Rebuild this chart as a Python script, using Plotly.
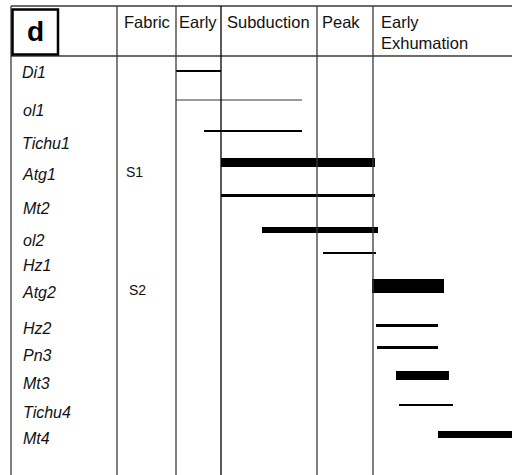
import plotly.graph_objects as go

# ---------------- data ----------------
minerals = ["Di1", "ol1", "Tichu1", "Atg1", "Mt2", "ol2", "Hz1", "Atg2",
            "Hz2", "Pn3", "Mt3", "Tichu4", "Mt4"]
# relative time span of each mineral (same units as the stage boundaries)
t_start = [176, 176, 204, 221, 221, 262, 323, 372, 376, 377, 396, 399, 438]
t_end = [221, 302, 302, 375, 375, 378, 376, 444, 438, 438, 449, 453, 512]
row_pos = [70.5, 100, 131, 162.5, 195.5, 229.5, 253, 286, 325.5, 347.5, 375.5, 405, 434.5]
label_pos = [72, 110, 143, 174, 208, 240, 265, 292, 328, 355, 383, 412, 438]
bar_size = [2, 1, 2, 9, 3, 6, 2, 14, 3, 3, 9, 2, 7]
bar_color = ["#000", "#9a9a9a", "#000", "#000", "#000", "#000", "#000", "#000",
             "#000", "#000", "#000", "#000", "#000"]

stages = ["Early", "Subduction", "Peak", "Early<br>Exhumation"]
stage_bounds = [176, 221, 317, 373, 512]
fabrics = ["S1", "S2"]
fabric_pos = [172, 290]

W, H = 512, 475
fig = go.Figure()

fig.add_trace(go.Bar(
    y=row_pos, x=[e - s for s, e in zip(t_start, t_end)], base=t_start,
    width=bar_size, orientation="h",
    marker=dict(color=bar_color, line=dict(width=0)),
    hoverinfo="skip", showlegend=False,
))

shapes = []
line_col = "#3a3a3a"
# header lines
shapes.append(dict(type="line", x0=11, x1=W, y0=6, y1=6, line=dict(color=line_col, width=1.3)))
shapes.append(dict(type="line", x0=11, x1=W, y0=56, y1=56, line=dict(color=line_col, width=1.3)))
# vertical lines
shapes.append(dict(type="line", x0=11, x1=11, y0=6, y1=H, line=dict(color=line_col, width=1.3)))
shapes.append(dict(type="line", x0=117, x1=117, y0=6, y1=H, line=dict(color=line_col, width=1.3)))
for i, b in enumerate(stage_bounds[:-1]):
    shapes.append(dict(type="line", x0=b, x1=b, y0=6, y1=H,
                       line=dict(color="#000" if b == 221 else line_col, width=1.3)))
# "d" box
shapes.append(dict(type="rect", x0=12.5, x1=58, y0=9.5, y1=54.5,
                   line=dict(color="#000", width=2.5)))

ann = []
font_lab = dict(family="Liberation Sans", size=16, color="#111")
for m, y in zip(minerals, label_pos):
    x = 22 if m in ("Di1", "Atg1", "Atg2", "Tichu1") else 23
    ann.append(dict(x=x - 2, y=y, text=f"<i>{m}</i>", showarrow=False, xanchor="left",
                    yanchor="middle", font=font_lab, xref="x", yref="y"))
for f, y, x in zip(fabrics, fabric_pos, [124, 127]):
    ann.append(dict(x=x, y=y, text=f, showarrow=False, xanchor="left", yanchor="middle",
                    font=dict(family="Liberation Sans", size=14, color="#111"), xref="x", yref="y"))
font_h = dict(family="Liberation Sans", size=16.5, color="#111")
ann.append(dict(x=122, y=21.5, text="Fabric", showarrow=False, xanchor="left", yanchor="middle",
                font=font_h, xref="x", yref="y"))
hx = [177, 225, 320, 379]
for s, x in zip(stages, hx):
    ann.append(dict(x=x, y=21.5 if "<br>" not in s else 32.5, text=s, showarrow=False,
                    xanchor="left", yanchor="middle", align="left",
                    font=font_h, xref="x", yref="y"))
ann.append(dict(x=35, y=31, text="<b>d</b>", showarrow=False, xanchor="center", yanchor="middle",
                font=dict(family="Liberation Sans", size=28, color="#000"), xref="x", yref="y"))

fig.update_layout(
    width=W, height=H, margin=dict(l=0, r=0, t=0, b=0),
    paper_bgcolor="white", plot_bgcolor="white",
    xaxis=dict(range=[0, W], visible=False, fixedrange=True),
    yaxis=dict(range=[H, 0], visible=False, fixedrange=True),
    shapes=shapes, annotations=ann, barmode="overlay", bargap=0,
)
fig.write_html("out.html", config={"displayModeBar": False},
               post_script="document.body.style.margin='0';document.body.style.overflow='hidden';")
